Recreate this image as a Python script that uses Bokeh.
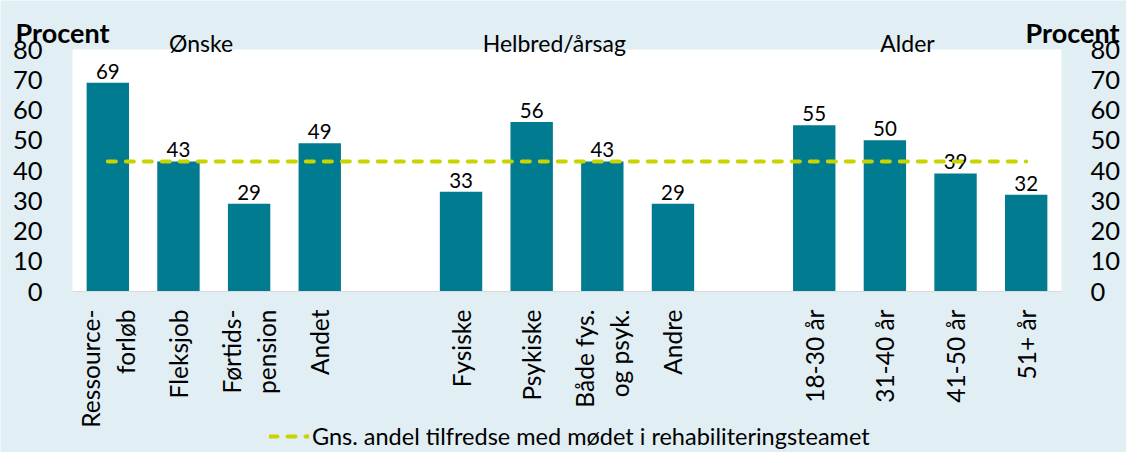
import math
from bokeh.plotting import figure
from bokeh.models import Range1d, Legend, LegendItem, ColumnDataSource
from bokeh.embed import file_html
from bokeh.resources import INLINE
from bokeh.core.properties import value

# ---------------- data ----------------
groups = ["Ønske", "Helbred/årsag", "Alder"]
categories = ["Ressource-\nforløb", "Fleksjob", "Førtids-\npension", "Andet",
              "Fysiske", "Psykiske", "Både fys.\nog psyk.", "Andre",
              "18-30 år", "31-40 år", "41-50 år", "51+ år"]
category_group = [0, 0, 0, 0, 1, 1, 1, 1, 2, 2, 2, 2]
values = [69, 43, 29, 49, 33, 56, 43, 29, 55, 50, 39, 32]
average = 43
average_label = "Gns. andel tilfredse med mødet i rehabiliteringsteamet"
y_ticks = [0, 10, 20, 30, 40, 50, 60, 70, 80]
y_title = "Procent"

# ---------------- style ----------------
BG = "#e1eef3"
BAR = "#007b8f"
LINE = "#c8d400"
AXIS = "#d9d9d9"
FONT = value("Lato")

# one empty slot between groups
x_pos = [i + g for i, g in enumerate(category_group)]
n_slots = x_pos[-1] + 1
y_max = y_ticks[-1]

# canvas and plot-area geometry (pixels)
W, H = 1126, 452
ML, MR, MT, MB = 72, 65, 49, 161
px_x = (W - ML - MR) / n_slots
px_y = (H - MT - MB) / y_max
x0, x1 = -0.5, n_slots - 0.5

p = figure(width=W, height=H,
           x_range=Range1d(x0 - ML / px_x, x1 + MR / px_x),
           y_range=Range1d(-MB / px_y, y_max + MT / px_y),
           output_backend="svg", toolbar_location=None,
           min_border=0, x_axis_location=None, y_axis_location=None,
           background_fill_color=BG, border_fill_color=BG, outline_line_color=None)
p.xgrid.visible = False
p.ygrid.visible = False

# white plot area
p.quad(left=[x0], right=[x1], bottom=[y_ticks[0]], top=[y_max], fill_color="white", line_color=None)

src = ColumnDataSource(dict(x=x_pos, top=values, lab=[str(v) for v in values],
                            ly=[v + 11.6 / px_y for v in values]))
p.vbar(x="x", top="top", width=0.6, source=src, fill_color=BAR, line_color=None)
p.text(x="x", y="ly", text="lab", source=src, text_align="center", text_baseline="alphabetic",
       text_font=FONT, text_font_size="20.5px", text_color="black")

# category axis line and labels
p.line(x=[x0, x1], y=[0, 0], line_color=AXIS, line_width=1)
cat_src = ColumnDataSource(dict(x=x_pos, y=[-18 / px_y] * len(x_pos), t=categories))
p.text(x="x", y="y", text="t", source=cat_src, angle=math.pi / 2, text_align="right",
       text_baseline="middle", text_font=FONT, text_font_size="24.5px", text_color="black",
       text_line_height=1.2)

# value axes labels (left and right)
p.text(x=[x0 - 30 / px_x] * len(y_ticks), y=y_ticks, text=[str(t) for t in y_ticks],
       text_align="right", text_baseline="middle", text_font=FONT, text_font_size="25.5px",
       text_color="black")
p.text(x=[x1 + 29 / px_x] * len(y_ticks), y=y_ticks, text=[str(t) for t in y_ticks],
       text_align="left", text_baseline="middle", text_font=FONT, text_font_size="25.5px",
       text_color="black")

# average line
avg_r = p.line(x=[x_pos[0], x_pos[-1]], y=[average, average], line_color=LINE, line_width=4,
               line_dash="8 10", line_cap="round")

# axis titles
title_y = y_max + 17 / px_y
p.text(x=[x0 - (ML - 15) / px_x, x1 + (MR - 7) / px_x], y=[title_y, title_y], text=[y_title, y_title],
       text_align=["left", "right"], text_baseline="alphabetic", text_font=FONT,
       text_font_size="27px", text_font_style="bold", text_color="black")

# group labels
g_mid = []
for gi in range(len(groups)):
    xs = [x for x, cg in zip(x_pos, category_group) if cg == gi]
    g_mid.append((xs[0] + xs[-1]) / 2 - 0.18)
p.text(x=g_mid, y=[y_max + 6.5 / px_y] * len(groups), text=groups, text_align="center",
       text_baseline="alphabetic", text_font=FONT, text_font_size="23px", text_color="black")

# legend: location is measured from the bottom-left corner of the canvas-wide frame
legend = Legend(items=[LegendItem(label=average_label, renderers=[avg_r])],
                location=(269, 2), orientation="horizontal",
                label_text_font="Lato", label_text_font_size="23.5px", label_text_color="black",
                glyph_width=40, glyph_height=20, label_standoff=3, padding=0, margin=0,
                border_line_color=None, background_fill_alpha=0)
p.add_layout(legend)

open("out.html", "w").write(file_html(p, INLINE))
